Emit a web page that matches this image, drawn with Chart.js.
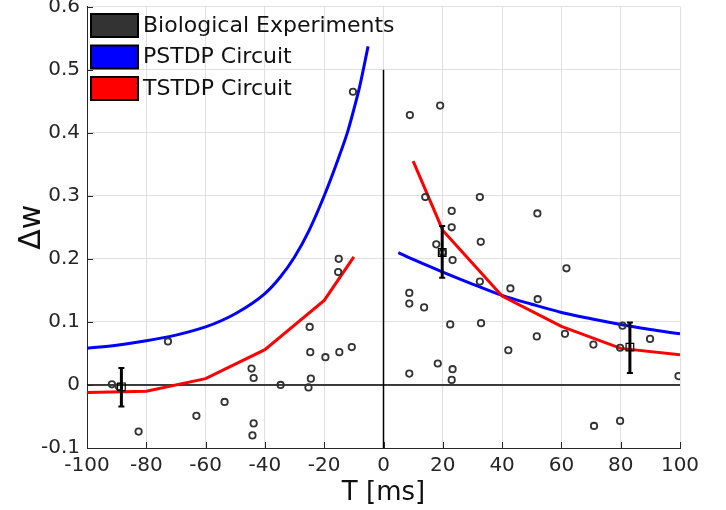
<!DOCTYPE html>
<html><head><meta charset="utf-8">
<script src="https://cdn.jsdelivr.net/npm/chart.js@4.4.0/dist/chart.umd.min.js"></script>
<style>html,body{margin:0;padding:0;background:#fff;overflow:hidden;}</style>
</head><body>
<canvas id="c" width="726" height="510"></canvas>
<script>
// ---- data ----
const xTicks = [-100, -80, -60, -40, -20, 0, 20, 40, 60, 80, 100];
const yTicks = [-0.1, 0, 0.1, 0.2, 0.3, 0.4, 0.5, 0.6];

const bioX = [-91.6, -89.2, -82.6, -72.7, -63.1, -53.6, -44.5, -43.8, -43.8, -44.2, -34.7, -24.9, -24.7, -24.5, -25.3, -19.6, -14.9, -10.7, -15.3, -15.1, -10.3,
  8.9, 19.1, 14.1, 32.5, 23.0, 51.9, 23.0, 32.8, 17.8, 23.3, 61.7, 32.5, 42.8, 8.7, 8.7, 13.7, 22.5, 32.9, 52.0, 51.7, 42.1, 61.2, 70.8, 80.6, 79.8, 89.9, 99.5, 8.7, 18.3, 23.3, 23.0, 71.0, 79.8, 19.9];
const bioY = [0.001, -0.003, -0.074, 0.069, -0.049, -0.027, 0.026, 0.011, -0.061, -0.080, 0.0, 0.092, 0.052, 0.010, -0.004, 0.044, 0.052, 0.060, 0.179, 0.200, 0.465,
  0.428, 0.443, 0.298, 0.298, 0.276, 0.272, 0.250, 0.227, 0.223, 0.198, 0.185, 0.164, 0.153, 0.146, 0.129, 0.123, 0.096, 0.098, 0.136, 0.077, 0.055, 0.081, 0.064, 0.094, 0.059, 0.073, 0.014, 0.018, 0.034, 0.025, 0.008, -0.065, -0.057, 0.210];

const meanX = [-88.4, 19.8, 83.1];
const meanY = [-0.003, 0.210, 0.060];
const errLow = [-0.034, 0.170, 0.019];
const errHigh = [0.027, 0.252, 0.099];

const pstdpLeftX = [-100, -90, -80, -70, -60, -50, -40, -35, -30, -25, -20, -15, -12, -10, -8, -5.2];
const pstdpLeftY = [0.058, 0.063, 0.070, 0.079, 0.092, 0.113, 0.145, 0.170, 0.203, 0.246, 0.300, 0.362, 0.403, 0.437, 0.474, 0.537];
const pstdpRightX = [5, 10, 20, 30, 40, 50, 60, 70, 80, 90, 100];
const pstdpRightY = [0.210, 0.199, 0.179, 0.160, 0.142, 0.128, 0.115, 0.105, 0.096, 0.088, 0.081];

const tstdpLeftX = [-100, -80, -60, -40, -20, -10];
const tstdpLeftY = [-0.012, -0.010, 0.010, 0.056, 0.134, 0.203];
const tstdpRightX = [10, 20, 40, 60, 80, 100];
const tstdpRightY = [0.355, 0.245, 0.141, 0.093, 0.058, 0.048];

const zeroHX = [-100, 100], zeroHY = [0, 0];
const zeroVX = [0, 0], zeroVY = [-0.1, 0.5];

const legendLabels = ['Biological Experiments', 'PSTDP Circuit', 'TSTDP Circuit'];
const legendColors = ['#333333', '#0000ff', '#ff0000'];

// ---- helpers ----
const pts = (xs, ys) => xs.map((x, i) => ({x: x, y: ys[i]}));
const FONT = '"DejaVu Sans", Verdana, sans-serif';
const AXC = '#262626';

const extrasPlugin = {
  id: 'extras',
  afterDatasetsDraw(chart) {
    const ctx = chart.ctx, xs = chart.scales.x, ys = chart.scales.y;
    ctx.save();
    ctx.strokeStyle = '#000';
    for (let i = 0; i < meanX.length; i++) {
      const px = xs.getPixelForValue(meanX[i]);
      const pl = ys.getPixelForValue(errLow[i]);
      const ph = ys.getPixelForValue(errHigh[i]);
      ctx.lineWidth = 3;
      ctx.beginPath(); ctx.moveTo(px, pl); ctx.lineTo(px, ph); ctx.stroke();
      ctx.lineWidth = 2;
      ctx.beginPath();
      ctx.moveTo(px - 3, pl); ctx.lineTo(px + 3, pl);
      ctx.moveTo(px - 3, ph); ctx.lineTo(px + 3, ph);
      ctx.stroke();
    }
    ctx.restore();
  },
  afterDraw(chart) {
    const ctx = chart.ctx, xs = chart.scales.x, ys = chart.scales.y, a = chart.chartArea;
    ctx.save();
    ctx.strokeStyle = AXC; ctx.lineWidth = 1;
    ctx.beginPath();
    xTicks.forEach(v => { const p = Math.round(xs.getPixelForValue(v)) + 0.5; ctx.moveTo(p, a.bottom); ctx.lineTo(p, a.bottom - 6); });
    yTicks.forEach(v => { const p = Math.round(ys.getPixelForValue(v)) + 0.5; ctx.moveTo(a.left, p); ctx.lineTo(a.left + 6, p); });
    ctx.stroke();
    ctx.font = '22px ' + FONT;
    ctx.textBaseline = 'middle';
    ctx.textAlign = 'left';
    for (let i = 0; i < legendLabels.length; i++) {
      const top = 14 + i * 31.5;
      ctx.fillStyle = legendColors[i];
      ctx.fillRect(91, top, 47, 23);
      ctx.lineWidth = 2; ctx.strokeStyle = '#000';
      ctx.strokeRect(91, top, 47, 23);
      ctx.fillStyle = '#111';
      ctx.fillText(legendLabels[i], 143, top + 12);
    }
    ctx.restore();
  }
};

new Chart(document.getElementById('c'), {
  type: 'scatter',
  data: {
    datasets: [
      {label: 'mean', data: pts(meanX, meanY), pointStyle: 'rect', pointRadius: 5.4, pointBorderWidth: 1.2,
        borderColor: '#000', backgroundColor: 'rgba(0,0,0,0)', showLine: false, order: 0},
      {label: 'Biological Experiments', data: pts(bioX, bioY), pointRadius: 3.2, pointBorderWidth: 1.8,
        borderColor: '#333333', backgroundColor: 'rgba(0,0,0,0)', showLine: false, order: 1},
      {label: 'PSTDP Circuit', type: 'line', data: pts(pstdpLeftX, pstdpLeftY), borderColor: '#0000ff', borderWidth: 3,
        pointRadius: 0, cubicInterpolationMode: 'monotone', fill: false, order: 3},
      {label: 'PSTDP Circuit R', type: 'line', data: pts(pstdpRightX, pstdpRightY), borderColor: '#0000ff', borderWidth: 3,
        pointRadius: 0, cubicInterpolationMode: 'monotone', fill: false, order: 3},
      {label: 'TSTDP Circuit', type: 'line', data: pts(tstdpLeftX, tstdpLeftY), borderColor: '#ff0000', borderWidth: 3,
        pointRadius: 0, tension: 0, fill: false, order: 2},
      {label: 'TSTDP Circuit R', type: 'line', data: pts(tstdpRightX, tstdpRightY), borderColor: '#ff0000', borderWidth: 3,
        pointRadius: 0, tension: 0, fill: false, order: 2},
      {label: 'zeroH', type: 'line', data: pts(zeroHX, zeroHY), borderColor: '#000', borderWidth: 1.5,
        pointRadius: 0, fill: false, order: 10},
      {label: 'zeroV', type: 'line', data: pts(zeroVX, zeroVY), borderColor: '#000', borderWidth: 1.5,
        pointRadius: 0, fill: false, order: 10}
    ]
  },
  options: {
    responsive: false,
    animation: false,
    devicePixelRatio: 1,
    layout: {padding: {top: 6, right: 46, left: 0, bottom: 0}},
    plugins: {legend: {display: false}, tooltip: {enabled: false}},
    scales: {
      x: {
        type: 'linear', min: -100, max: 100,
        afterBuildTicks: s => { s.ticks = xTicks.map(v => ({value: v})); },
        afterFit: s => { s.height = 62; s.paddingLeft = 0; s.paddingRight = 0; },
        grid: {color: '#e0e0e0', lineWidth: 1, drawTicks: false},
        border: {display: true, color: AXC, width: 1},
        ticks: {color: AXC, font: {family: FONT, size: 20}, padding: 6, maxRotation: 0, autoSkip: false,
          callback: v => String(v)},
        title: {display: true, text: 'T [ms]', color: '#111', font: {family: FONT, size: 26, lineHeight: 1}, padding: {top: 0, bottom: 4}}
      },
      y: {
        type: 'linear', min: -0.1, max: 0.6,
        afterBuildTicks: s => { s.ticks = yTicks.map(v => ({value: v})); },
        afterFit: s => { s.width = 87; s.paddingTop = 0; s.paddingBottom = 0; },
        grid: {color: '#e0e0e0', lineWidth: 1, drawTicks: false},
        border: {display: true, color: AXC, width: 1},
        ticks: {color: AXC, font: {family: FONT, size: 20}, padding: 7, autoSkip: false,
          callback: v => String(Math.round(v * 10) / 10)},
        title: {display: true, text: 'Δw', color: '#111', font: {family: FONT, size: 30, lineHeight: 1}, padding: {top: 17, bottom: 0}}
      }
    }
  },
  plugins: [extrasPlugin]
});
</script>
</body></html>
